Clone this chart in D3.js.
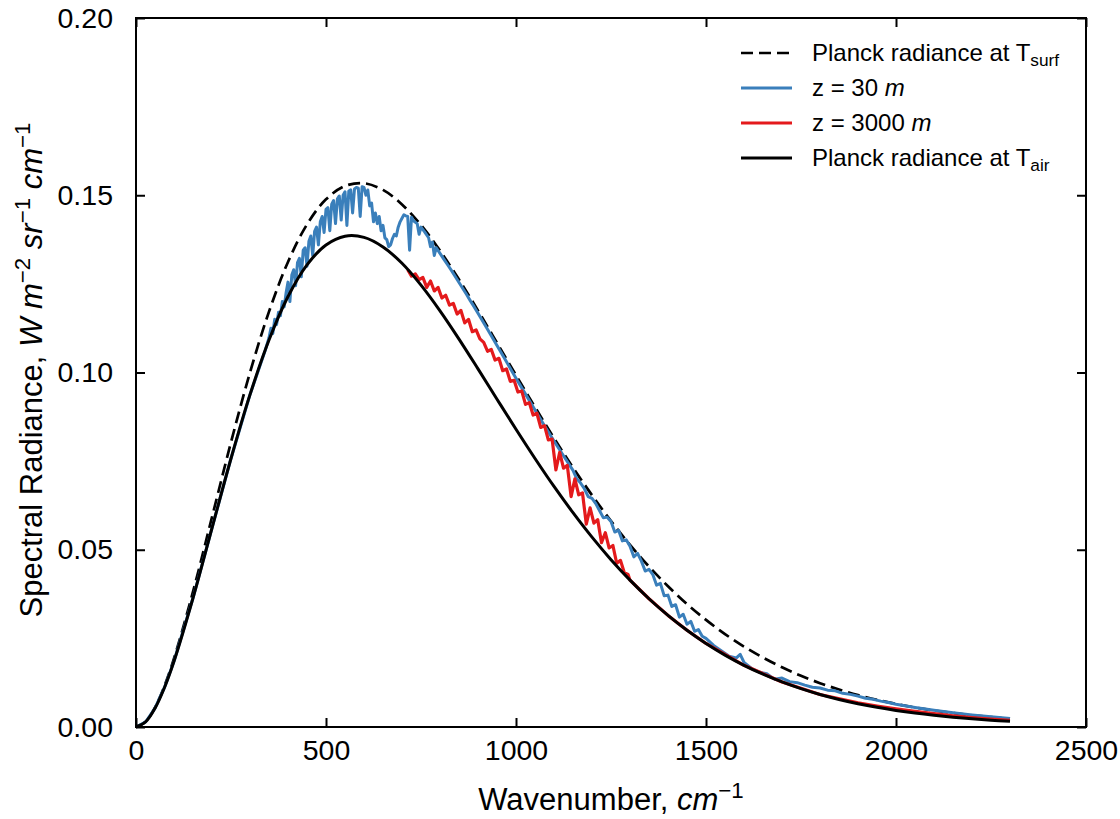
<!DOCTYPE html>
<html lang="en">
  <head>
    <meta charset="UTF-8" />
    <title>Spectral radiance</title>
    <script src="https://cdn.jsdelivr.net/npm/d3@7"></script>
    <style>
      body { margin: 0; background: #fff; }
      svg { display: block; font-family: "Liberation Sans", Arial, sans-serif; }
    </style>
  </head>
  <body>
    <div id="chart"></div>
    <script>
      // Planck curves, sampled every 50 cm-1 (plus 25 and 75 near the origin)
      const planckNu = [0, 25, 50, 75, 100, 150, 200, 250, 300, 350, 400, 450, 500, 550, 600, 650, 700, 750, 800, 850, 900,
        950, 1000, 1050, 1100, 1150, 1200, 1250, 1300, 1350, 1400, 1450, 1500, 1550, 1600, 1650, 1700, 1750, 1800, 1850,
        1900, 1950, 2000, 2050, 2100, 2150, 2200, 2250, 2300];
      const planckSurf = [0, .00146, .00549, .01161, .01935, .03816, .05919, .08032, .10000, .11717, .13119, .14177, .14886,
        .15262, .15339, .15150, .14741, .14158, .13437, .12622, .11746, .10838, .09923, .09023, .08150, .07319, .06538,
        .05810, .05139, .04526, .03970, .03469, .03021, .02621, .02268, .01957, .01684, .01445, .01237, .01057, .00901,
        .00766, .00650, .00551, .00466, .00393, .00332, .00279, .00235];
      const planckAir = [0, .00141, .00529, .01115, .01854, .03638, .05613, .07575, .09375, .10917, .12145, .13037, .13597,
        .13844, .13812, .13542, .13081, .12465, .11740, .10943, .10102, .09247, .08399, .07575, .06786, .06046, .05355,
        .04720, .04142, .03618, .03148, .02728, .02356, .02028, .01740, .01489, .01271, .01082, .00918, .00778, .00658,
        .00555, .00467, .00392, .00329, .00276, .00230, .00192, .00160];

      // z = 30 m spectrum
      const lowNu = [0, 25, 50, 75, 100, 150, 200, 250, 300, 340, 350, 355, 360, 365, 370, 375, 380, 385, 390, 395, 400, 405,
        410, 415, 420, 425, 430, 435, 440, 445, 450, 455, 460, 465, 470, 475, 480, 485, 490, 495, 500, 505, 510, 515, 520,
        525, 530, 535, 540, 545, 550, 555, 560, 565, 570, 575, 580, 585, 590, 595, 600, 605, 610, 615, 620, 625, 630, 635,
        640, 645, 650, 655, 660, 665, 670, 675, 680, 685, 690, 695, 700, 705, 710, 715, 720, 725, 730, 740, 745, 750, 760,
        770, 775, 780, 785, 790, 800, 810, 820, 830, 840, 850, 860, 870, 880, 890, 900, 925, 950, 975, 1000, 1025, 1050,
        1075, 1100, 1125, 1150, 1160, 1170, 1180, 1190, 1200, 1210, 1220, 1230, 1240, 1250, 1260, 1270, 1280, 1290, 1300,
        1310, 1320, 1330, 1340, 1350, 1360, 1370, 1380, 1390, 1400, 1410, 1420, 1430, 1440, 1450, 1460, 1470, 1480, 1490,
        1500, 1520, 1540, 1560, 1580, 1590, 1600, 1620, 1640, 1660, 1680, 1700, 1720, 1740, 1760, 1780, 1800, 1820, 1840,
        1860, 1880, 1900, 1920, 1940, 1960, 1980, 2000, 2050, 2100, 2150, 2200, 2250, 2300];
      const lowVal = [0, .00141, .00529, .01115, .01854, .03638, .05613, .07575, .09375, .1062, .1098, .1125, .1110, .1150,
        .1135, .1170, .1160, .1200, .1185, .1225, .1255, .1200, .1275, .1290, .1245, .1310, .1322, .1270, .1345, .1352,
        .1300, .1370, .1385, .1330, .1398, .1410, .1360, .1425, .1440, .1395, .1460, .1465, .1400, .1475, .1485, .1420,
        .1490, .1498, .1430, .1500, .1510, .1415, .1512, .1515, .1450, .1518, .1522, .1520, .1440, .1524, .1522, .1500,
        .1515, .1470, .1478, .1425, .1450, .1420, .1440, .1400, .1415, .1380, .1375, .1355, .1360, .1378, .1390, .1385,
        .1410, .1425, .1435, .1445, .1442, .1440, .1345, .1438, .1428, .1420, .1390, .1410, .1396, .1380, .1355, .1368,
        .1330, .1352, .1336, .1320, .1304, .1288, .1271, .1254, .1237, .1220, .1202, .1185, .1167, .1122, .1076, .1030,
        .0984, .0939, .0894, .0850, .0807, .0765, .0724, .0700, .0688, .0672, .0650, .0645, .0630, .0610, .0590, .0592,
        .0580, .0550, .0555, .0525, .0528, .0510, .0480, .0490, .0468, .0440, .0445, .0430, .0400, .0405, .0370, .0372,
        .0340, .0345, .0310, .0318, .0290, .0298, .0270, .0275, .0256, .0250, .0230, .0215, .0200, .0195, .0205, .0182,
        .0165, .0155, .0150, .0135, .0138, .0128, .0125, .0118, .0112, .0110, .0104, .0102, .0095, .0092, .0087, .0081,
        .0078, .0073, .0069, .0064, .0055, .0047, .0040, .0034, .0029, .0024];

      // z = 3000 m spectrum
      const highNu = [715, 725, 735, 745, 755, 765, 775, 785, 795, 805, 815, 825, 835, 845, 855, 865, 875, 885, 895, 905,
        915, 925, 935, 945, 955, 965, 975, 985, 995, 1005, 1015, 1025, 1035, 1045, 1055, 1065, 1075, 1085, 1095, 1105,
        1115, 1125, 1135, 1145, 1155, 1165, 1175, 1185, 1195, 1205, 1215, 1225, 1235, 1245, 1255, 1265, 1275, 1285, 1295,
        1300, 1350, 1400, 1450, 1500, 1600, 1700, 1800, 1900, 1950, 2000, 2050, 2100, 2150, 2200, 2250, 2300];
      const highVal = [.1290, .1272, .1278, .1262, .1268, .1240, .1258, .1230, .1240, .1210, .1218, .1190, .1195, .1165,
        .1175, .1140, .1150, .1115, .1120, .1095, .1085, .1060, .1065, .1035, .1040, .1005, .1010, .0975, .0978, .0945,
        .0948, .0910, .0915, .0880, .0885, .0845, .0850, .0810, .0812, .0725, .0775, .0730, .0738, .0650, .0700, .0655,
        .0660, .0572, .0618, .0575, .0585, .0520, .0548, .0505, .0512, .0462, .0470, .0435, .0430, .04142, .03618, .03148,
        .02728, .02356, .01740, .01271, .00918, .00680, .00590, .00510, .00440, .00375, .00318, .00268, .00225, .00190];

      const xTicks = [0, 500, 1000, 1500, 2000, 2500];
      const yTicks = [0, 0.05, 0.1, 0.15, 0.2];

      const width = 1120;
      const height = 819;
      const margin = { left: 136, right: 34, top: 18, bottom: 92 };

      const x = d3.scaleLinear().domain([0, 2500]).range([margin.left, width - margin.right]);
      const y = d3.scaleLinear().domain([0, 0.2]).range([height - margin.bottom, margin.top]);

      const svg = d3.select("#chart").append("svg").attr("width", width).attr("height", height);

      const zip = (nu, v) => nu.map((d, i) => [d, v[i]]);
      const smooth = d3.line().x(d => x(d[0])).y(d => y(d[1])).curve(d3.curveCatmullRom.alpha(0.5));
      const jagged = d3.line().x(d => x(d[0])).y(d => y(d[1]));

      // draw order like matplotlib: dashed, blue, red, black
      svg.append("path").attr("d", smooth(zip(planckNu, planckSurf)))
        .attr("fill", "none").attr("stroke", "#000").attr("stroke-width", 2.7).attr("stroke-dasharray", "12,6");
      svg.append("path").attr("d", jagged(zip(lowNu, lowVal)))
        .attr("fill", "none").attr("stroke", "#3a7fbb").attr("stroke-width", 3).attr("stroke-linejoin", "round");
      svg.append("path").attr("d", jagged(zip(highNu, highVal)))
        .attr("fill", "none").attr("stroke", "#e41a1c").attr("stroke-width", 3.2).attr("stroke-linejoin", "round");
      svg.append("path").attr("d", smooth(zip(planckNu, planckAir)))
        .attr("fill", "none").attr("stroke", "#000").attr("stroke-width", 3);

      // axes with inward ticks on all sides
      const tick = 9;
      svg.append("g").attr("transform", `translate(0,${height - margin.bottom})`)
        .call(d3.axisBottom(x).tickValues(xTicks).tickFormat(d3.format("d")).tickSizeInner(-tick).tickSizeOuter(0).tickPadding(13));
      svg.append("g").attr("transform", `translate(${margin.left},0)`)
        .call(d3.axisLeft(y).tickValues(yTicks).tickFormat(d3.format(".2f")).tickSizeInner(-tick).tickSizeOuter(0).tickPadding(23));
      svg.append("g").attr("transform", `translate(0,${margin.top})`)
        .call(d3.axisTop(x).tickValues(xTicks).tickFormat("").tickSizeInner(-tick).tickSizeOuter(0));
      svg.append("g").attr("transform", `translate(${width - margin.right},0)`)
        .call(d3.axisRight(y).tickValues(yTicks).tickFormat("").tickSizeInner(-tick).tickSizeOuter(0));

      svg.selectAll(".domain").remove();
      svg.selectAll(".tick line").attr("stroke", "#000").attr("stroke-width", 2);
      svg.selectAll(".tick text").attr("font-size", 28.5).attr("fill", "#000")
        .attr("font-family", '"Liberation Sans", Arial, sans-serif');

      svg.append("rect")
        .attr("x", margin.left).attr("y", margin.top)
        .attr("width", width - margin.left - margin.right)
        .attr("height", height - margin.top - margin.bottom)
        .attr("fill", "none").attr("stroke", "#000").attr("stroke-width", 2);

      // text with italic / superscript pieces
      function rich(text, parts) {
        parts.forEach(p => {
          const t = text.append("tspan").text(p.t);
          if (p.i) t.attr("font-style", "italic");
          if (p.sup) t.attr("font-size", "0.72em").attr("dy", "-0.55em");
          if (p.sub) t.attr("font-size", "0.72em").attr("dy", "0.3em");
          if (p.back) t.attr("dy", p.back);
        });
      }

      const xl = svg.append("text")
        .attr("x", 611).attr("y", 810)
        .attr("text-anchor", "middle").attr("font-size", 31);
      rich(xl, [{ t: "Wavenumber, " }, { t: "cm" , i: true }, { t: "\u22121", sup: true }]);

      const yl = svg.append("text")
        .attr("transform", `translate(42,370) rotate(-90)`)
        .attr("text-anchor", "middle").attr("font-size", 31);
      rich(yl, [
        { t: "Spectral Radiance, " }, { t: "W m", i: true }, { t: "\u22122", sup: true },
        { t: " sr", i: true, back: "0.4em" }, { t: "\u22121", sup: true },
        { t: " cm", i: true, back: "0.4em" }, { t: "\u22121", sup: true }
      ]);

      // legend
      const legendItems = [
        { parts: [{ t: "Planck radiance at T" }, { t: "surf", sub: true }], color: "#000", dash: "12,6", w: 2.7 },
        { parts: [{ t: "z = 30 " }, { t: "m", i: true }], color: "#3a7fbb", dash: null, w: 3 },
        { parts: [{ t: "z = 3000 " }, { t: "m", i: true }], color: "#e41a1c", dash: null, w: 3 },
        { parts: [{ t: "Planck radiance at T" }, { t: "air", sub: true }], color: "#000", dash: null, w: 3 }
      ];
      const lg = svg.append("g");
      legendItems.forEach((d, i) => {
        const cy = 53 + i * 35;
        lg.append("line").attr("x1", 741).attr("x2", 792).attr("y1", cy).attr("y2", cy)
          .attr("stroke", d.color).attr("stroke-width", d.w).attr("stroke-dasharray", d.dash);
        const t = lg.append("text").attr("x", 812).attr("y", cy + 8).attr("font-size", 24);
        rich(t, d.parts);
      });
    </script>
  </body>
</html>
